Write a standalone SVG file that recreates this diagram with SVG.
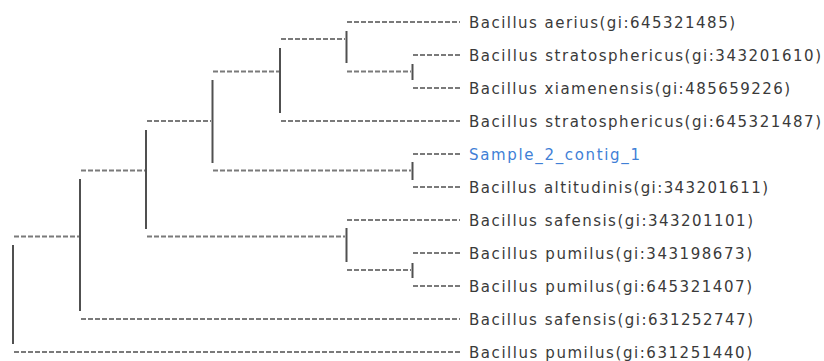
<svg xmlns="http://www.w3.org/2000/svg" width="824" height="361" viewBox="0 0 824 361">
<style>
.h{stroke:#7a7a7a;stroke-width:2;stroke-dasharray:5 2;fill:none}
.v{stroke:#505050;stroke-width:2;fill:none}
.lbl{font-family:"DejaVu Sans","Verdana",sans-serif;font-size:15px;fill:#3a3a3a}
.sample{fill:#3f80d6}
</style>
<rect width="824" height="361" fill="#ffffff"/>
<g id="connectors">
<!-- leaf branches -->
<line class="h" x1="347" y1="22" x2="460" y2="22"/>
<line class="h" x1="413" y1="55" x2="460" y2="55"/>
<line class="h" x1="413" y1="88" x2="460" y2="88"/>
<line class="h" x1="281" y1="121" x2="460" y2="121"/>
<line class="h" x1="413" y1="154" x2="460" y2="154"/>
<line class="h" x1="413" y1="187" x2="460" y2="187"/>
<line class="h" x1="347" y1="220" x2="460" y2="220"/>
<line class="h" x1="413" y1="253" x2="460" y2="253"/>
<line class="h" x1="413" y1="286" x2="460" y2="286"/>
<line class="h" x1="81" y1="319" x2="460" y2="319"/>
<line class="h" x1="14" y1="352" x2="460" y2="352"/>
<!-- internal branches -->
<line class="h" x1="281" y1="39" x2="345" y2="39"/>
<line class="h" x1="347" y1="71.5" x2="411" y2="71.5"/>
<line class="h" x1="213" y1="71.5" x2="279" y2="71.5"/>
<line class="h" x1="213" y1="170.5" x2="411" y2="170.5"/>
<line class="h" x1="147" y1="121" x2="211" y2="121"/>
<line class="h" x1="347" y1="270" x2="411" y2="270"/>
<line class="h" x1="147" y1="236.5" x2="345" y2="236.5"/>
<line class="h" x1="81" y1="170.5" x2="145" y2="170.5"/>
<line class="h" x1="14" y1="236.5" x2="79" y2="236.5"/>
<!-- verticals -->
<line class="v" x1="13" y1="245" x2="13" y2="344"/>
<line class="v" x1="80" y1="179" x2="80" y2="311"/>
<line class="v" x1="146" y1="130" x2="146" y2="229"/>
<line class="v" x1="212.5" y1="80" x2="212.5" y2="163"/>
<line class="v" x1="280" y1="48" x2="280" y2="113"/>
<line class="v" x1="346.5" y1="31" x2="346.5" y2="63"/>
<line class="v" x1="412.5" y1="64" x2="412.5" y2="80"/>
<line class="v" x1="412.5" y1="162" x2="412.5" y2="180"/>
<line class="v" x1="346.5" y1="228" x2="346.5" y2="262"/>
<line class="v" x1="412.5" y1="263" x2="412.5" y2="278"/>
</g>
<g id="leaf1"><text class="lbl" x="469" y="27.5" textLength="266" lengthAdjust="spacing">Bacillus aerius(gi:645321485)</text></g>
<g id="leaf2"><text class="lbl" x="469" y="60.5" textLength="352" lengthAdjust="spacing">Bacillus stratosphericus(gi:343201610)</text></g>
<g id="leaf3"><text class="lbl" x="469" y="93.5" textLength="321" lengthAdjust="spacing">Bacillus xiamenensis(gi:485659226)</text></g>
<g id="leaf4"><text class="lbl" x="469" y="126.5" textLength="352" lengthAdjust="spacing">Bacillus stratosphericus(gi:645321487)</text></g>
<g id="leaf5"><text class="lbl sample" x="469" y="159.5" textLength="171" lengthAdjust="spacing">Sample_2_contig_1</text></g>
<g id="leaf6"><text class="lbl" x="469" y="192.5" textLength="299" lengthAdjust="spacing">Bacillus altitudinis(gi:343201611)</text></g>
<g id="leaf7"><text class="lbl" x="469" y="225.5" textLength="284" lengthAdjust="spacing">Bacillus safensis(gi:343201101)</text></g>
<g id="leaf8"><text class="lbl" x="469" y="258.5" textLength="283" lengthAdjust="spacing">Bacillus pumilus(gi:343198673)</text></g>
<g id="leaf9"><text class="lbl" x="469" y="291.5" textLength="283" lengthAdjust="spacing">Bacillus pumilus(gi:645321407)</text></g>
<g id="leaf10"><text class="lbl" x="469" y="324.5" textLength="284" lengthAdjust="spacing">Bacillus safensis(gi:631252747)</text></g>
<g id="leaf11"><text class="lbl" x="469" y="357.5" textLength="283" lengthAdjust="spacing">Bacillus pumilus(gi:631251440)</text></g>
</svg>
